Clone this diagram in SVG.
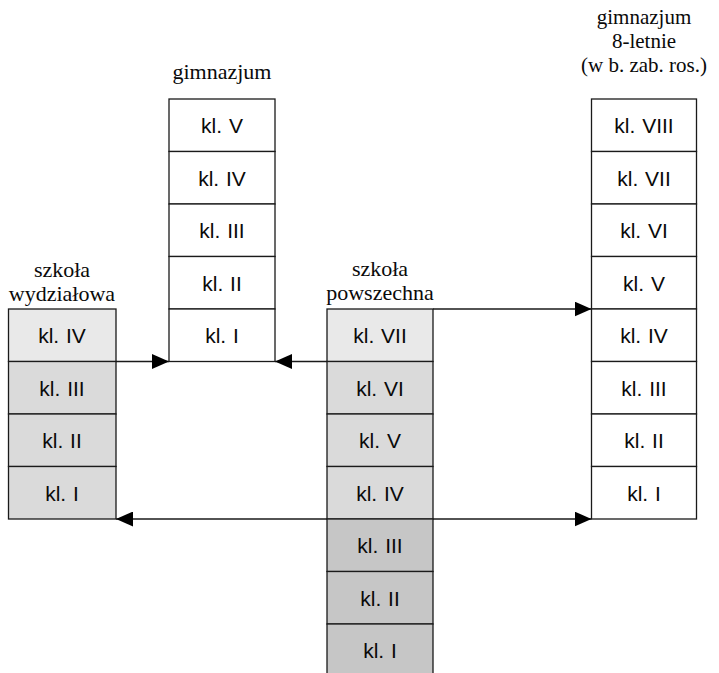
<svg xmlns="http://www.w3.org/2000/svg" width="719" height="673" viewBox="0 0 719 673">
  <style>
    .box { stroke: #1a1a1a; stroke-width: 1.3; }
    .w { fill: #ffffff; }
    .l { fill: #e9e9e9; }
    .m { fill: #dadada; }
    .d { fill: #c6c6c6; }
    .lbl { font-family: "Liberation Sans", Arial, sans-serif; font-size: 21px; fill: #0a0a0a; text-anchor: middle; word-spacing: 1px; }
    .ttl { font-family: "Liberation Serif", "Times New Roman", serif; font-size: 22px; fill: #0a0a0a; text-anchor: middle; }
    .ttl8 { font-size: 21px; }
    .conn { stroke: #1a1a1a; stroke-width: 1.3; fill: none; }
  </style>
  <defs>
    <marker id="ah" markerUnits="userSpaceOnUse" markerWidth="17" markerHeight="15" viewBox="0 0 17 15" refX="17" refY="7.5" orient="auto-start-reverse">
      <path d="M0,0 L17,7.5 L0,15 Z" fill="#000"/>
    </marker>
  </defs>
  <rect x="0" y="0" width="719" height="673" fill="#ffffff"/>

  <g id="connectors">
    <line class="conn" x1="116" y1="361.5" x2="169" y2="361.5" marker-end="url(#ah)"/>
    <line class="conn" x1="327" y1="361.5" x2="275" y2="361.5" marker-end="url(#ah)"/>
    <line class="conn" x1="433" y1="309" x2="591.5" y2="309" marker-end="url(#ah)"/>
    <line class="conn" x1="116" y1="519" x2="591.5" y2="519" marker-start="url(#ah)" marker-end="url(#ah)"/>
  </g>

  <g id="gimnazjum">
    <text class="ttl" x="222" y="79">gimnazjum</text>
    <rect class="box w" x="169" y="99" width="106" height="52.5"/>
    <rect class="box w" x="169" y="151.5" width="106" height="52.5"/>
    <rect class="box w" x="169" y="204" width="106" height="52.5"/>
    <rect class="box w" x="169" y="256.5" width="106" height="52.5"/>
    <rect class="box w" x="169" y="309" width="106" height="52.5"/>
    <text class="lbl" x="222" y="133">kl. V</text>
    <text class="lbl" x="222" y="185.5">kl. IV</text>
    <text class="lbl" x="222" y="238">kl. III</text>
    <text class="lbl" x="222" y="290.5">kl. II</text>
    <text class="lbl" x="222" y="343">kl. I</text>
  </g>

  <g id="szkola-wydzialowa">
    <text class="ttl" x="62" y="277">szkoła</text>
    <text class="ttl" x="62" y="301">wydziałowa</text>
    <rect class="box l" x="8.5" y="309" width="107.5" height="52.5"/>
    <rect class="box m" x="8.5" y="361.5" width="107.5" height="52.5"/>
    <rect class="box m" x="8.5" y="414" width="107.5" height="52.5"/>
    <rect class="box m" x="8.5" y="466.5" width="107.5" height="52.5"/>
    <text class="lbl" x="62" y="343">kl. IV</text>
    <text class="lbl" x="62" y="395.5">kl. III</text>
    <text class="lbl" x="62" y="448">kl. II</text>
    <text class="lbl" x="62" y="500.5">kl. I</text>
  </g>

  <g id="szkola-powszechna">
    <text class="ttl" x="380" y="276">szkoła</text>
    <text class="ttl" x="380" y="300">powszechna</text>
    <rect class="box l" x="327" y="309" width="106" height="52.5"/>
    <rect class="box m" x="327" y="361.5" width="106" height="52.5"/>
    <rect class="box m" x="327" y="414" width="106" height="52.5"/>
    <rect class="box m" x="327" y="466.5" width="106" height="52.5"/>
    <rect class="box d" x="327" y="519" width="106" height="52.5"/>
    <rect class="box d" x="327" y="571.5" width="106" height="52.5"/>
    <rect class="box d" x="327" y="624" width="106" height="52.5"/>
    <text class="lbl" x="380" y="343">kl. VII</text>
    <text class="lbl" x="380" y="395.5">kl. VI</text>
    <text class="lbl" x="380" y="448">kl. V</text>
    <text class="lbl" x="380" y="500.5">kl. IV</text>
    <text class="lbl" x="380" y="553">kl. III</text>
    <text class="lbl" x="380" y="605.5">kl. II</text>
    <text class="lbl" x="380" y="658">kl. I</text>
  </g>

  <g id="gimnazjum-8-letnie">
    <text class="ttl ttl8" x="644" y="24">gimnazjum</text>
    <text class="ttl ttl8" x="644" y="48">8-letnie</text>
    <text class="ttl ttl8" x="644" y="72">(w b. zab. ros.)</text>
    <rect class="box w" x="591.5" y="99" width="105" height="52.5"/>
    <rect class="box w" x="591.5" y="151.5" width="105" height="52.5"/>
    <rect class="box w" x="591.5" y="204" width="105" height="52.5"/>
    <rect class="box w" x="591.5" y="256.5" width="105" height="52.5"/>
    <rect class="box w" x="591.5" y="309" width="105" height="52.5"/>
    <rect class="box w" x="591.5" y="361.5" width="105" height="52.5"/>
    <rect class="box w" x="591.5" y="414" width="105" height="52.5"/>
    <rect class="box w" x="591.5" y="466.5" width="105" height="52.5"/>
    <text class="lbl" x="644" y="133">kl. VIII</text>
    <text class="lbl" x="644" y="185.5">kl. VII</text>
    <text class="lbl" x="644" y="238">kl. VI</text>
    <text class="lbl" x="644" y="290.5">kl. V</text>
    <text class="lbl" x="644" y="343">kl. IV</text>
    <text class="lbl" x="644" y="395.5">kl. III</text>
    <text class="lbl" x="644" y="448">kl. II</text>
    <text class="lbl" x="644" y="500.5">kl. I</text>
  </g>
</svg>
